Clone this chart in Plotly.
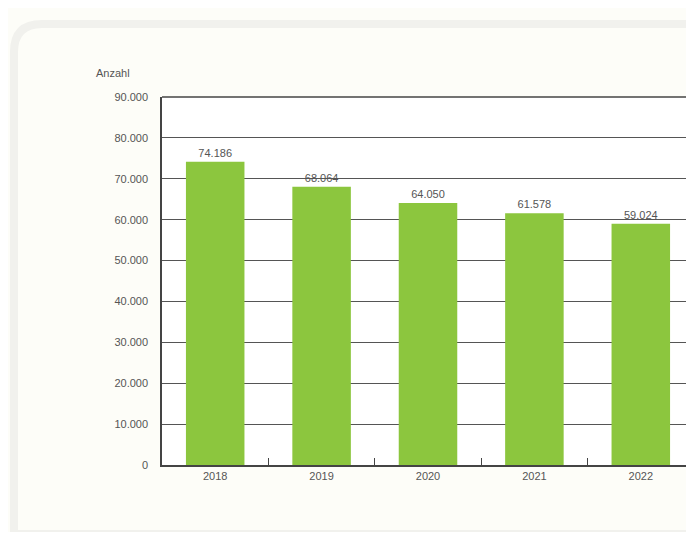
import plotly.graph_objects as go

years = ["2018", "2019", "2020", "2021", "2022"]
values = [74186, 68064, 64050, 61578, 59024]
y_ticks = [0, 10000, 20000, 30000, 40000, 50000, 60000, 70000, 80000, 90000]

# page has an 8px body margin; figure sized to fit the window without scrollbars
W, H = 678, 524
L, R, T, B = 154, 0, 89, 67
pw, ph = W - L - R, H - T - B
slot = 106.4  # px per category in the reference

def px(x):
    return (x - 8 - L) / pw

def py(y):
    return (H - B - (y - 8)) / ph

fig = go.Figure()
fig.add_trace(go.Bar(
    x=years, y=values,
    marker=dict(color="#8cc63e", line=dict(width=0)),
    width=0.55,
    texttemplate="%{y:,d}",
    textposition="outside",
    textfont=dict(family="Liberation Sans", size=11, color="#555555"),
    cliponaxis=False,
    hoverinfo="skip",
))

x0, y0, x1, y1 = px(14), py(24), px(760), py(534)
rx, ry = 28 / pw, 28 / ph
path = (f"M {x0} {y1} L {x0} {y0 - ry} Q {x0} {y0} {x0 + rx} {y0} "
        f"L {x1} {y0} L {x1} {y1} Z")
shapes = [
    dict(type="path", path=path, xref="paper", yref="paper",
         line=dict(color="#f1f1ed", width=8), fillcolor="rgba(0,0,0,0)",
         layer="below"),
    dict(type="line", xref="paper", yref="paper", x0=0, x1=1, y0=1, y1=1,
         line=dict(color="#444444", width=1.5)),
]

fig.update_layout(
    width=W, height=H,
    margin=dict(l=L, r=R, t=T, b=B, pad=0),
    paper_bgcolor="#fdfdf8",
    plot_bgcolor="#ffffff",
    separators=",.",
    showlegend=False,
    shapes=shapes,
    font=dict(family="Liberation Sans", size=11, color="#555555"),
    xaxis=dict(
        type="category", range=[-0.5, -0.5 + pw / slot],
        showline=True, linecolor="#444444", linewidth=1.5,
        ticks="inside", tickson="boundaries", ticklen=7, tickcolor="#444444",
        showgrid=False, tickfont=dict(size=11, color="#555555"),
        fixedrange=True,
    ),
    yaxis=dict(
        range=[0, 90000], tickvals=y_ticks, tickformat=",d",
        showline=True, linecolor="#444444", linewidth=1.5,
        showgrid=True, gridcolor="#555555", gridwidth=1,
        zeroline=False, ticks="", ticklabelstandoff=10,
        tickfont=dict(size=11, color="#555555"),
        fixedrange=True,
    ),
    annotations=[dict(text="Anzahl", x=px(94), y=py(73), xref="paper", yref="paper",
                      xanchor="left", yanchor="middle", showarrow=False,
                      font=dict(size=11, color="#555555"))],
)

fig.write_html("out.html")
